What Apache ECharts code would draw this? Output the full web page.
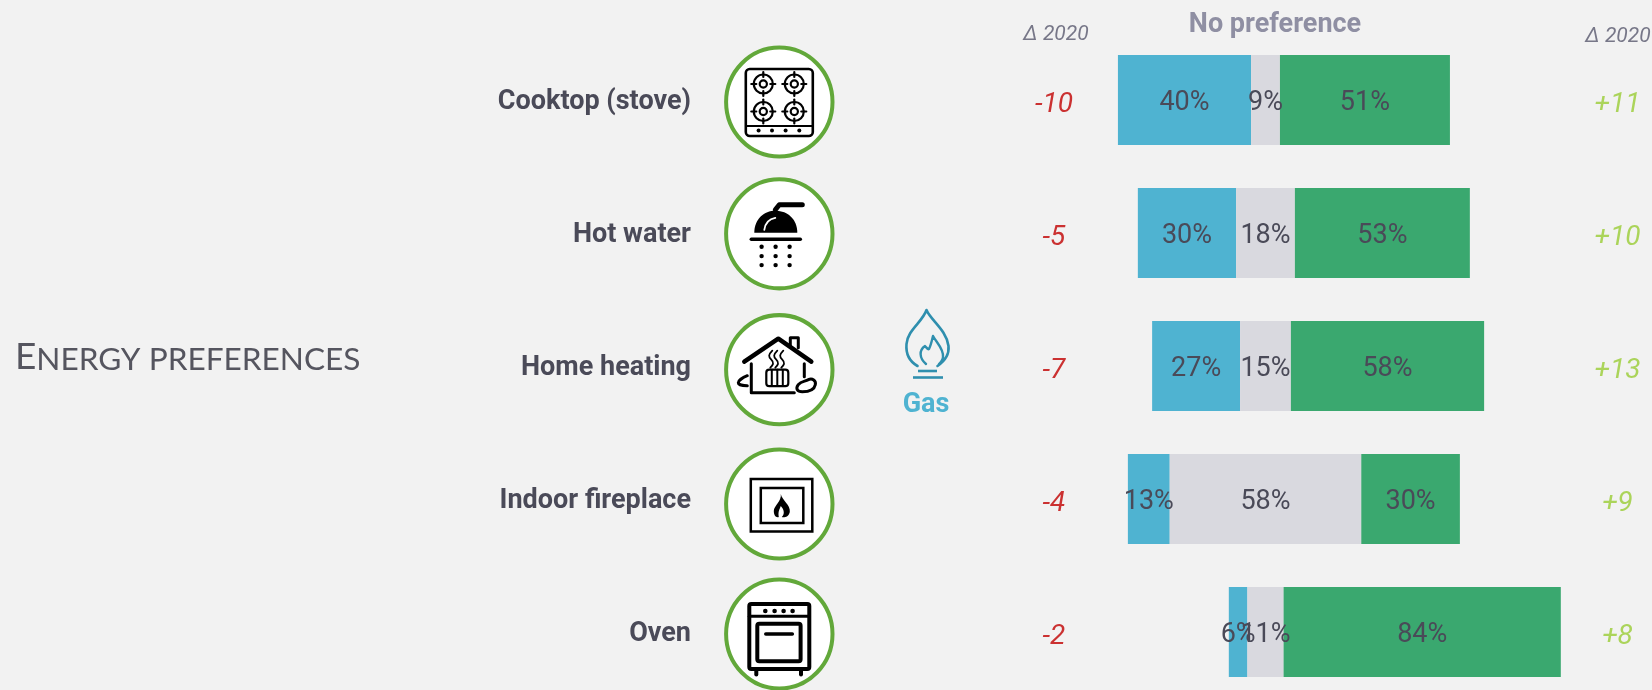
<!DOCTYPE html>
<html>
<head>
<meta charset="utf-8">
<style>html,body{margin:0;padding:0;background:#f2f2f2}#c{width:1652px;height:690px}</style>
<script src="https://cdn.jsdelivr.net/npm/echarts@6/dist/echarts.min.js"></script>
</head>
<body>
<div id="c"></div>
<script>
const categories = ['Cooktop (stove)', 'Hot water', 'Home heating', 'Indoor fireplace', 'Oven'];
const gasValues = [40.1, 29.6, 26.5, 12.6, 5.6];
const noPrefValues = [8.7, 17.7, 15.3, 57.7, 10.9];
const otherValues = [51.2, 52.7, 58.2, 29.7, 83.5];
const deltaGas = [-10, -5, -7, -4, -2];
const deltaOther = [11, 10, 13, 9, 8];

const ink = '#4a4a58', blue = '#4fb3d1', grey = '#d9d9df', green = '#3aa86f';
const PX = 3.32, GL = 700, GW = 952;
const centre = (1265.5 - GL) / PX;
const colLeft = (1054 - GL) / PX, colRight = (1617.5 - GL) / PX;
const offset = categories.map((_, i) => centre - gasValues[i] - noPrefValues[i] / 2);
const fmtDelta = v => (v > 0 ? '+' : '') + v;

const barLabel = {
  show: true, position: 'inside', color: ink,
  fontFamily: 'Roboto', fontSize: 27,
  formatter: p => Math.round(p.value) + '%'
};
const barSeries = (name, data, color) => ({
  name, type: 'bar', stack: 'a', barWidth: 90, data, itemStyle: { color },
  label: barLabel, silent: true, labelLayout: { dy: 3, hideOverlap: false }
});
const deltaSeries = (vals, x, color) => ({
  type: 'scatter', symbolSize: 1, itemStyle: { color: 'transparent' }, silent: true,
  data: vals.map((v, i) => ({ value: [x, i], delta: v })),
  label: {
    show: true, position: 'inside', offset: [0, 5], color,
    fontFamily: 'Roboto', fontStyle: 'italic', fontSize: 28,
    formatter: p => fmtDelta(p.data.delta)
  }
});

/* decorative pictograms */
const K = '#000';
const S = (w, extra) => Object.assign({ fill: 'none', stroke: K, lineWidth: w, lineCap: 'round', lineJoin: 'round' }, extra || {});
const dot = (cx, cy, r) => ({ type: 'circle', shape: { cx, cy, r }, style: { fill: K } });
const rect = (x, y, w, h, lw, r) => ({ type: 'rect', shape: { x, y, width: w, height: h, r: r || 0 }, style: S(lw, { lineCap: 'butt', lineJoin: r ? 'round' : 'miter' }) });
const line = (x1, y1, x2, y2, lw) => ({ type: 'line', shape: { x1, y1, x2, y2 }, style: S(lw) });
const poly = (points, lw) => ({ type: 'polyline', shape: { points }, style: S(lw) });
let pathId = 0;
const path = (d, x, y, style) => {
  const name = 'icon-path-' + (pathId++);
  echarts.graphic.registerShape(name, echarts.graphic.extendPath(d, {}));
  return { type: name, x, y, style };
};

function burner(x, y) {
  return [
    { type: 'circle', shape: { cx: x, cy: y, r: 9.5 }, style: S(2.2) },
    { type: 'circle', shape: { cx: x, cy: y, r: 3.6 }, style: S(2.2) },
    line(x - 12, y, x - 7, y, 2.2), line(x + 7, y, x + 12, y, 2.2),
    line(x, y - 12, x, y - 7, 2.2), line(x, y + 7, x, y + 12, 2.2)
  ];
}
const steam = x => path('M2 0C-2 4 -2 6 1 9C4 12 3 14 0 17', x - 2, -19, S(1.8));
const icons = [
  [
    rect(-33.5, -33, 67, 67, 2.6, 4), line(-33, 24, 33, 24, 2.2),
    dot(-20.7, 28.5, 2), dot(-7.3, 28.5, 2), dot(6.3, 28.5, 2), dot(20, 28.5, 2),
    ...burner(-16, -18), ...burner(15, -18), ...burner(-16, 9.5), ...burner(15, 9.5)
  ],
  [
    path('M0 22C0 8 10 0 21 0C34 0 43 9 43 22Z', -25, -23, { fill: K }),
    path('M0 12C1 5 5 1 11 0', -15, -16, S(1.8, { stroke: '#fff' })),
    poly([[-4, -24], [0, -29], [23, -29]], 5),
    line(-28, 5.5, 21, 5.5, 3.5),
    ...[13, 22.3, 31.3].flatMap(y => [dot(-17.7, y, 2.2), dot(-3.7, y, 2.2), dot(10.3, y, 2.2)])
  ],
  [
    poly([[-35, -8], [-1, -31], [32, -8]], 4.5),
    poly([[11, -24], [11, -32], [19, -32], [19, -22]], 3),
    poly([[-28, -6], [-28, 23], [15, 23]], 3), line(25, -6, 25, 7, 3),
    rect(-13, 0, 22, 16.5, 2.2, 3), line(-7.5, 0, -7.5, 16, 2), line(-2, 0, -2, 16, 2), line(3.5, 0, 3.5, 16, 2),
    steam(-7), steam(-2), steam(4),
    path('M2 6C5 2 9 3 12 1C16 -1 20 2 19 6C18 11 12 13 6 13C1 13 -1 10 2 6Z', 17, 9, S(3)),
    path('M9 0C4 2 0 5 0 7C0 9 5 10 9 10', -41, 6, S(3))
  ],
  [
    rect(-28.5, -25, 61.5, 52.5, 2.5), rect(-18.5, -16, 42.5, 35, 2.5),
    path('M7 0C8 6 17 11 16 18C15 23 10 24 8 23C12 19 9 14 7 12C6 15 4 17 5 23C2 24 0 21 0 17C0 12 8 7 7 0Z', -5.5, -10, { fill: K })
  ],
  [
    rect(-30, -30, 60, 65, 4, 2), line(-30, -17.7, 30, -17.7, 3),
    dot(-14, -23, 2.3), dot(-4.7, -23, 2.3), dot(4.3, -23, 2.3), dot(13.3, -23, 2.3),
    rect(-22, -10.3, 43.3, 37.6, 4, 2), line(-13.5, 0, 13, 0, 3.6),
    line(-23, 36, -23, 40.5, 4), line(21.7, 36, 21.7, 40.5, 4)
  ]
];
const iconCentres = [102, 233.8, 369.7, 504, 634];

const graphicEls = [];
iconCentres.forEach((y, i) => {
  graphicEls.push({
    type: 'group', x: 779.3, y, silent: true,
    children: [
      { type: 'circle', shape: { cx: 0, cy: 0, r: 53.2 }, scaleY: 1.025, style: { fill: '#fff', stroke: '#62a83a', lineWidth: 4 } },
      ...icons[i]
    ]
  });
});
const flameBlue = '#2f8fae';
graphicEls.push({
  type: 'group', x: 927, y: 340, silent: true,
  children: [
    path('M11 56C4 52 -1 46 0 34C1 20 16 12 20 0C24 10 40 20 42 36C43 46 37 52 31 56', -20.5, -30, S(2.6, { stroke: flameBlue })),
    path('M7 28C0 22 0 14 6 10C8 12 9 14 10 13C12 9 13 4 14 0C17 6 25 13 24 21C24 24 22 26 20 28', -8, -4, S(2.4, { stroke: flameBlue })),
    { type: 'line', shape: { x1: -9, y1: 31, x2: 10, y2: 31 }, style: { stroke: flameBlue, lineWidth: 2.6 } },
    { type: 'line', shape: { x1: -14, y1: 37.5, x2: 16, y2: 37.5 }, style: { stroke: flameBlue, lineWidth: 2.6 } }
  ]
});
const txt = (text, x, y, fill, fontSize, fontWeight, fontStyle) => ({
  type: 'text', x, y, silent: true,
  style: { text, fill, fontFamily: 'Roboto', fontSize, fontWeight: fontWeight || 'normal', fontStyle: fontStyle || 'normal', textAlign: 'center', textVerticalAlign: 'middle' }
});
graphicEls.push(txt('Gas', 926, 405, blue, 27, 'bold'));
graphicEls.push(txt('No preference', 1275, 25, '#8f8fa3', 27, 'bold'));
graphicEls.push(txt('Δ 2020', 1056, 35, '#777788', 21, 'normal', 'italic'));
graphicEls.push(txt('Δ 2020', 1618, 37, '#777788', 21, 'normal', 'italic'));

const chart = echarts.init(document.getElementById('c'));
chart.setOption({
  animation: false,
  backgroundColor: '#f2f2f2',
  title: {
    left: 15, top: 339, padding: 0,
    text: '{a|E}{b|NERGY PREFERENCES}',
    textStyle: {
      rich: {
        a: { fontFamily: 'Lato', fontWeight: 'normal', fontSize: 37, color: '#55555f', verticalAlign: 'bottom' },
        b: { fontFamily: 'Lato', fontWeight: 'normal', fontSize: 31.6, color: '#55555f', verticalAlign: 'bottom' }
      }
    }
  },
  grid: [
    { left: GL, top: 33.5, width: GW, height: 665, outerBoundsMode: 'none' },
    { left: GL, top: 35.5, width: GW, height: 665, outerBoundsMode: 'none' }
  ],
  xAxis: [
    { type: 'value', gridIndex: 0, min: 0, max: GW / PX, show: false },
    { type: 'value', gridIndex: 1, min: 0, max: GW / PX, show: false }
  ],
  yAxis: [
    { type: 'category', gridIndex: 0, inverse: true, data: categories, axisLine: { show: false }, axisTick: { show: false }, axisLabel: { show: false } },
    {
      type: 'category', gridIndex: 1, inverse: true, data: categories,
      axisLine: { show: false }, axisTick: { show: false },
      axisLabel: { margin: 9, color: ink, fontFamily: 'Roboto', fontWeight: 'bold', fontSize: 27, align: 'right' }
    }
  ],
  series: [
    { type: 'bar', stack: 'a', barWidth: 90, data: offset, itemStyle: { color: 'transparent' }, silent: true },
    barSeries('Gas', gasValues, blue),
    barSeries('No preference', noPrefValues, grey),
    barSeries('Other', otherValues, green),
    deltaSeries(deltaGas, colLeft, '#c00000'),
    deltaSeries(deltaOther, colRight, '#99cc33')
  ],
  graphic: { elements: graphicEls }
});
</script>
</body>
</html>
